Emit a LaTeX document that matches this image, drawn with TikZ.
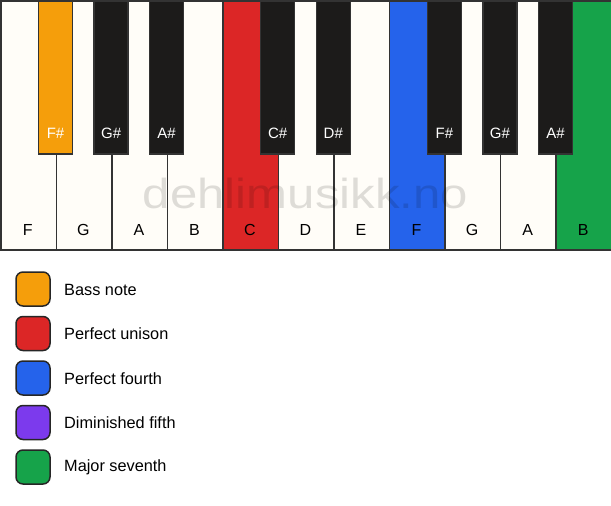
\documentclass[tikz,border=0pt]{standalone}
\usepackage{fontspec}
\setmainfont{Liberation Sans}
\definecolor{keywhite}{HTML}{FFFDF8}
\definecolor{keyblack}{HTML}{1C1B1A}
\definecolor{keyline}{HTML}{333333}
\definecolor{cbass}{HTML}{F59E0B}
\definecolor{cunison}{HTML}{DC2626}
\definecolor{cfourth}{HTML}{2563EB}
\definecolor{cdimfifth}{HTML}{7C3AED}
\definecolor{cseventh}{HTML}{16A34A}
\tikzset{
  whitekey/.style={draw=keyline, line width=1.5pt, fill=keywhite, minimum width=55.545pt, minimum height=249pt, inner sep=0pt, anchor=north west},
  blackkey/.style={draw=keyline, line width=1.5pt, fill=keyblack, minimum width=34pt, minimum height=153pt, inner sep=0pt, anchor=north},
  whitelabel/.style={font=\fontsize{16}{19}\selectfont, text=black, inner sep=0pt},
  blacklabel/.style={font=\fontsize{15}{18}\selectfont, text=white, inner sep=0pt},
  legendbox/.style={draw=black!85, line width=1.5pt, rounded corners=7pt, minimum width=34pt, minimum height=34pt, inner sep=0pt},
  legendtext/.style={font=\fontsize{16.3}{19}\selectfont, anchor=west, inner sep=0pt},
  watermark/.style={font=\fontsize{42}{48}\selectfont, text=black, text opacity=0.13, inner sep=0pt, xscale=1.17}
}
\begin{document}
\begin{tikzpicture}[x=1pt,y=-1pt]
\useasboundingbox (0,0) rectangle (611,506);
\fill[white] (0,0) rectangle (611,506);
% white keys
\foreach \i/\n/\c in {0/F/keywhite,1/G/keywhite,2/A/keywhite,3/B/keywhite,4/C/cunison,5/D/keywhite,6/E/keywhite,7/F/cfourth,8/G/keywhite,9/A/keywhite,10/B/cseventh}{
  \node[whitekey, fill=\c] (w\i) at ({\i*55.545},0) {};
  \node[whitelabel] (wl\i) at ({(\i+0.5)*55.545},230) {\n};
}
% watermark
\node[watermark] (wm) at (305.5,193) {dehlimusikk.no};
% black keys
\foreach \b/\n/\c in {1/F\#/cbass,2/G\#/keyblack,3/A\#/keyblack,5/C\#/keyblack,6/D\#/keyblack,8/F\#/keyblack,9/G\#/keyblack,10/A\#/keyblack}{
  \node[blackkey, fill=\c] (b\b) at ({\b*55.545},0) {};
  \node[blacklabel] (bl\b) at ({\b*55.545},133) {\n};
}
% legend
\foreach \k/\c/\t in {0/cbass/Bass note,1/cunison/Perfect unison,2/cfourth/Perfect fourth,3/cdimfifth/Diminished fifth,4/cseventh/Major seventh}{
  \node[legendbox, fill=\c] (lb\k) at (33,{289+\k*44.5}) {};
  \node[legendtext] (lt\k) at (64,{289.5+\k*44.5}) {\t};
}
\end{tikzpicture}
\end{document}
